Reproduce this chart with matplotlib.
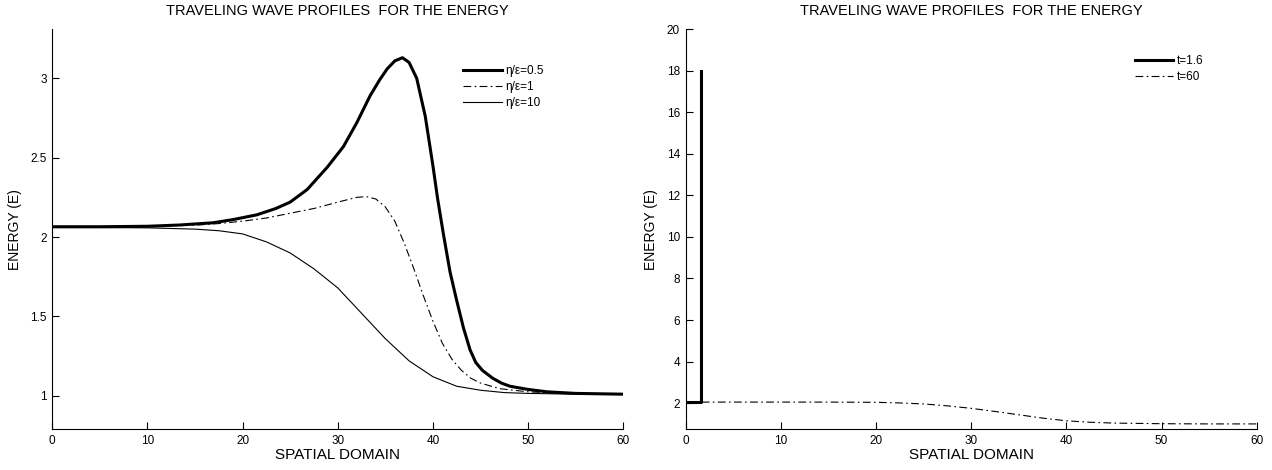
import matplotlib
matplotlib.use('Agg')
import matplotlib.pyplot as plt

plt.rcParams['font.family'] = ['Liberation Sans', 'DejaVu Sans']

# left panel: energy profiles for three eta/eps ratios
x_05 = [0, 5, 10, 13.4, 16.9, 19, 21.5, 23.5, 25.0, 26.8, 28.9, 30.6, 32.0, 33.4, 34.4, 35.2, 36.0, 36.8,
        37.5, 38.3, 39.2, 40.0, 40.5, 41.1, 41.8, 42.5, 43.2, 43.9, 44.5, 45.2, 46.3, 47.2, 48.1, 50, 52, 55, 60]
e_05 = [2.065, 2.065, 2.068, 2.076, 2.09, 2.11, 2.14, 2.18, 2.22, 2.30, 2.44, 2.57, 2.72, 2.89, 2.99, 3.06, 3.11, 3.13,
        3.10, 3.00, 2.76, 2.45, 2.24, 2.02, 1.78, 1.60, 1.43, 1.29, 1.21, 1.16, 1.11, 1.08, 1.06, 1.04, 1.025, 1.015, 1.01]

x_1 = [0, 5, 10, 15, 17.5, 20, 22.5, 25, 27.5, 30, 32, 33, 34, 35, 36, 37, 38,
       39, 40, 41, 42, 43, 44, 45, 47, 50, 55, 60]
e_1 = [2.065, 2.065, 2.067, 2.075, 2.085, 2.10, 2.12, 2.15, 2.18, 2.22, 2.25, 2.255, 2.24, 2.19, 2.10, 1.96, 1.80,
       1.63, 1.47, 1.33, 1.23, 1.16, 1.11, 1.08, 1.045, 1.025, 1.012, 1.01]

x_10 = [0, 5, 10, 15, 17.5, 20, 22.5, 25, 27.5, 30, 32.5, 35, 37.5, 40, 42.5, 45, 47.5, 50, 55, 60]
e_10 = [2.06, 2.06, 2.058, 2.05, 2.04, 2.02, 1.97, 1.90, 1.80, 1.68, 1.52, 1.36, 1.22, 1.12, 1.06, 1.035, 1.02, 1.015, 1.01, 1.01]

# right panel: energy at two times
x_t16 = [0, 1.6, 1.6]
e_t16 = [2.05, 2.05, 18]

x_t60 = [0, 5, 10, 15, 20, 22.5, 25, 27.5, 30, 32.5, 35, 37.5, 40, 42.5, 45, 50, 55, 60]
e_t60 = [2.05, 2.05, 2.05, 2.05, 2.04, 2.01, 1.96, 1.87, 1.75, 1.6, 1.44, 1.28, 1.15, 1.08, 1.04, 1.01, 1.0, 1.0]

dashdot = (0, (7, 3, 1.5, 3))

fig = plt.figure(figsize=(12.72, 4.70), dpi=100)
ax1 = fig.add_axes([0.041, 0.087, 0.449, 0.851])
ax2 = fig.add_axes([0.539, 0.087, 0.449, 0.851])

ax1.plot(x_05, e_05, color='black', lw=2.2, label='η/ε=0.5')
ax1.plot(x_1, e_1, color='black', lw=0.8, linestyle=dashdot, label='η/ε=1')
ax1.plot(x_10, e_10, color='black', lw=0.8, label='η/ε=10')
ax1.set_xlim(0, 60)
ax1.set_ylim(0.79, 3.31)
ax1.set_yticks([1, 1.5, 2, 2.5, 3])
ax1.set_yticklabels(['1', '1.5', '2', '2.5', '3'])
ax1.legend(loc='upper left', bbox_to_anchor=(0.72, 0.91), frameon=False, fontsize=8.5,
           handlelength=3.3, handletextpad=0.25, labelspacing=0.35, borderpad=0, borderaxespad=0)

ax2.plot(x_t16, e_t16, color='black', lw=2.2, label='t=1.6')
ax2.plot(x_t60, e_t60, color='black', lw=0.8, linestyle=dashdot, label='t=60')
ax2.set_xlim(0, 60)
ax2.set_ylim(0.75, 20)
ax2.set_yticks(range(2, 21, 2))
ax2.legend(loc='upper left', bbox_to_anchor=(0.786, 0.935), frameon=False, fontsize=8.5,
           handlelength=3.3, handletextpad=0.25, labelspacing=0.3, borderpad=0, borderaxespad=0)

for ax in (ax1, ax2):
    ax.set_xticks(range(0, 61, 10))
    ax.spines['top'].set_visible(False)
    ax.spines['right'].set_visible(False)
    ax.tick_params(direction='in', length=5, labelsize=8.5, pad=4)
    ax.set_title('TRAVELING WAVE PROFILES  FOR THE ENERGY', fontsize=10.5, pad=10)
    ax.set_xlabel('SPATIAL DOMAIN', fontsize=11, labelpad=1)
    ax.set_ylabel('ENERGY (E)', fontsize=10, labelpad=6)

fig.savefig('out.png', dpi=100)
